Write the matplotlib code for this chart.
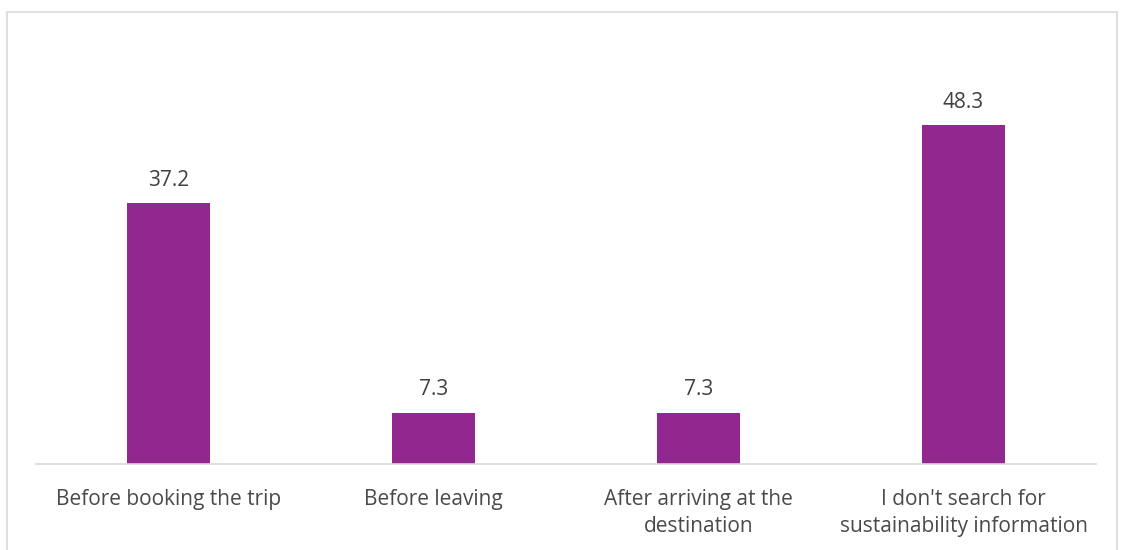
import matplotlib.pyplot as plt
from matplotlib.patches import Rectangle

categories = ["Before booking the trip", "Before leaving",
              "After arriving at the\ndestination",
              "I don't search for\nsustainability information"]
values = [37.2, 7.3, 7.3, 48.3]

plt.rcParams['font.family'] = ['Open Sans', 'DejaVu Sans']

fig = plt.figure(figsize=(11.22, 5.5), dpi=100)
W, H = 1122, 550

# outer chart border
fig.patches.append(Rectangle((7 / W, -0.05), 1110 / W, (H - 12) / H + 0.05,
                             transform=fig.transFigure, fill=False,
                             edgecolor='#D9D9D9', linewidth=1.2))

ax = fig.add_axes([36 / W, (H - 464) / H, 1060 / W, 421 / H])
x = range(len(categories))
bars = ax.bar(x, values, width=0.315, color='#92278F')

for b, v in zip(bars, values):
    ax.text(b.get_x() + b.get_width() / 2, v + 1.75, f"{v:.1f}",
            ha='center', va='bottom', fontsize=15, color='#404040')

ax.set_xlim(-0.5, 3.5)
ax.set_ylim(0, 60)
ax.set_xticks(list(x))
ax.set_xticklabels(categories, fontsize=15, color='#4a4a4a', linespacing=1.35)
ax.tick_params(axis='x', length=0, pad=18)
ax.set_yticks([])
for s in ['top', 'right', 'left']:
    ax.spines[s].set_visible(False)
ax.spines['bottom'].set_color('#D9D9D9')
ax.spines['bottom'].set_linewidth(1.2)

fig.savefig('out.png', dpi=100)
